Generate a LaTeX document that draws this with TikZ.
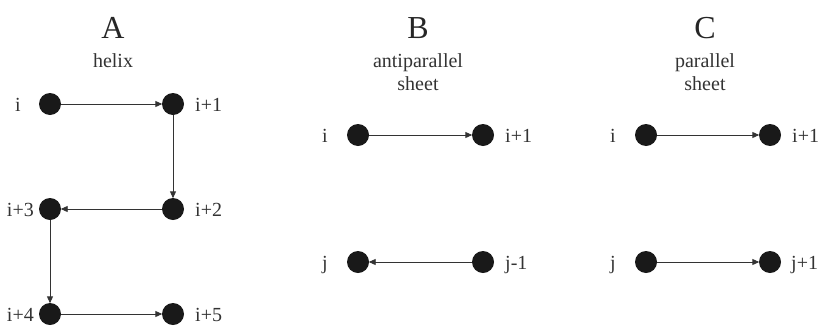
\documentclass[tikz,border=0pt]{standalone}
\usepackage{fontspec}
\setmainfont{Liberation Serif}
\usetikzlibrary{arrows.meta}
\tikzset{
  res/.style={circle,fill=black!90,minimum size=22pt,inner sep=0pt},
  lab/.style={font=\fontsize{20}{20}\selectfont,text=black!80,inner sep=0pt},
  ttl/.style={font=\fontsize{32}{32}\selectfont,text=black!85,inner sep=0pt,anchor=base},
  sub/.style={font=\fontsize{20}{22}\selectfont,text=black!80,inner sep=0pt,anchor=base},
  link/.style={draw=black!80,line width=0.9pt,-{Triangle[length=7pt,width=6pt]},shorten >=-0.5pt}
}
\begin{document}
\begin{tikzpicture}[x=1pt,y=-1pt]
\useasboundingbox (0,0) rectangle (818,327);
% Panel A
\node[ttl] (tA) at (113,38) {A};
\node[sub] (sA) at (113,67) {helix};
\node[res] (a0) at (50,104) {};
\node[res] (a1) at (173,104) {};
\node[res] (a2) at (173,209) {};
\node[res] (a3) at (50,209) {};
\node[res] (a4) at (50,314) {};
\node[res] (a5) at (173,314) {};
\node[lab,anchor=base] (la0) at (18,111) {i};
\node[lab,anchor=base west] (la1) at (195,111) {i+1};
\node[lab,anchor=base west] (la2) at (195,216) {i+2};
\node[lab,anchor=base east] (la3) at (34,216) {i+3};
\node[lab,anchor=base east] (la4) at (34,321) {i+4};
\node[lab,anchor=base west] (la5) at (195,321) {i+5};
\draw[link] (a0) -- (a1);
\draw[link] (a1) -- (a2);
\draw[link] (a2) -- (a3);
\draw[link] (a3) -- (a4);
\draw[link] (a4) -- (a5);
% Panel B
\node[ttl] (tB) at (418,38) {B};
\node[sub] (sB1) at (418,67) {antiparallel};
\node[sub] (sB2) at (418,90) {sheet};
\node[res] (b0) at (358,135) {};
\node[res] (b1) at (483,135) {};
\node[res] (b2) at (358,262) {};
\node[res] (b3) at (483,262) {};
\node[lab,anchor=base] (lb0) at (325,142) {i};
\node[lab,anchor=base west] (lb1) at (505,142) {i+1};
\node[lab,anchor=base] (lb2) at (325,269) {j};
\node[lab,anchor=base west] (lb3) at (505,269) {j-1};
\draw[link] (b0) -- (b1);
\draw[link] (b3) -- (b2);
% Panel C
\node[ttl] (tC) at (705,38) {C};
\node[sub] (sC1) at (705,67) {parallel};
\node[sub] (sC2) at (705,90) {sheet};
\node[res] (c0) at (646,135) {};
\node[res] (c1) at (770,135) {};
\node[res] (c2) at (646,262) {};
\node[res] (c3) at (770,262) {};
\node[lab,anchor=base] (lc0) at (613,142) {i};
\node[lab,anchor=base west] (lc1) at (792,142) {i+1};
\node[lab,anchor=base] (lc2) at (613,269) {j};
\node[lab,anchor=base west] (lc3) at (791,269) {j+1};
\draw[link] (c0) -- (c1);
\draw[link] (c2) -- (c3);
\end{tikzpicture}
\end{document}
